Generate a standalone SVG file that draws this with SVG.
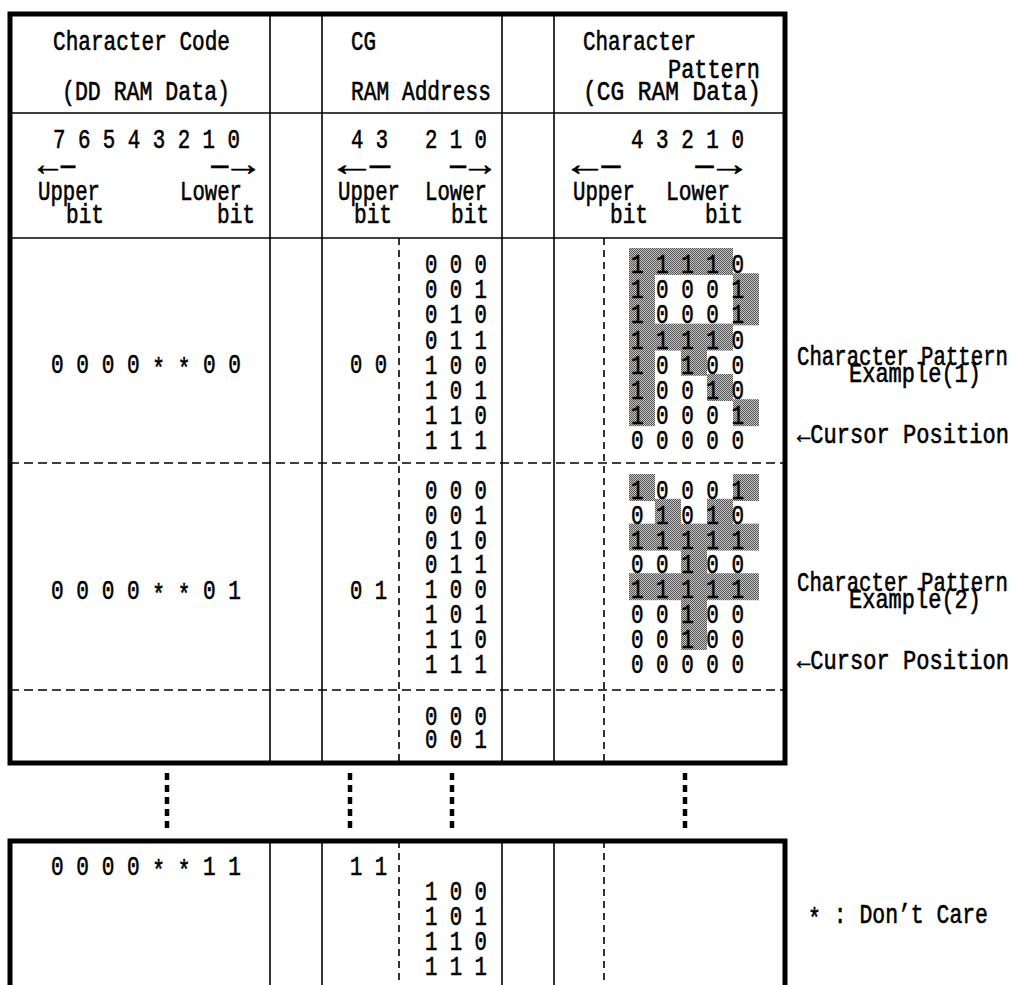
<svg xmlns="http://www.w3.org/2000/svg" width="1019" height="985" viewBox="0 0 1019 985">
<defs>
<pattern id="dither" width="2" height="2" patternUnits="userSpaceOnUse">
<rect width="2" height="2" fill="#c4c4c4"/>
<rect width="1" height="1" fill="#555"/>
<rect x="1" y="1" width="1" height="1" fill="#555"/>
</pattern>
</defs>
<style>
.t{font-family:"Liberation Mono","DejaVu Sans Mono",monospace;font-size:21px;fill:#000;stroke:#000;stroke-width:0.45}
.ar{font-size:25px}
.thick{stroke:#000;stroke-width:5;fill:none}
.thin{stroke:#000;stroke-width:1.6;fill:none}
.hd{stroke:#000;stroke-width:1.6;stroke-dasharray:9 5;fill:none}
.vd{stroke:#000;stroke-width:1.6;stroke-dasharray:7 5;fill:none}
.dot{stroke:#000;stroke-width:4.5;stroke-dasharray:7 5;fill:none}
.sh{fill:url(#dither)}
</style>
<rect width="1019" height="985" fill="#fff"/>

<g id="shading">
<rect class="sh" x="629" y="248" width="26" height="178.2"/>
<rect class="sh" x="655" y="248" width="78" height="27"/>
<rect class="sh" x="733" y="273.2" width="26" height="52.2"/>
<rect class="sh" x="655" y="323.6" width="78" height="27"/>
<rect class="sh" x="681" y="348.8" width="26" height="27"/>
<rect class="sh" x="707" y="374" width="26" height="27"/>
<rect class="sh" x="733" y="399.2" width="26" height="27"/>
<rect class="sh" x="629" y="474" width="26" height="27"/>
<rect class="sh" x="733" y="474" width="26" height="27"/>
<rect class="sh" x="655" y="498.8" width="26" height="27"/>
<rect class="sh" x="707" y="498.8" width="26" height="27"/>
<rect class="sh" x="629" y="523.6" width="130" height="27"/>
<rect class="sh" x="681" y="548.4" width="26" height="27"/>
<rect class="sh" x="629" y="573.2" width="130" height="27"/>
<rect class="sh" x="681" y="598" width="26" height="52"/>
</g>

<g id="grid">
<rect class="thick" x="10" y="14" width="775" height="749"/>
<line class="thin" x1="10" y1="113" x2="785" y2="113"/>
<line class="thin" x1="10" y1="238" x2="785" y2="238"/>
<line class="thin" x1="270" y1="14" x2="270" y2="763"/>
<line class="thin" x1="322" y1="14" x2="322" y2="763"/>
<line class="thin" x1="502" y1="14" x2="502" y2="763"/>
<line class="thin" x1="554" y1="14" x2="554" y2="763"/>
<line class="vd" x1="399" y1="238" x2="399" y2="763"/>
<line class="vd" x1="604" y1="238" x2="604" y2="763"/>
<line class="hd" x1="10" y1="463" x2="785" y2="463"/>
<line class="hd" x1="10" y1="690" x2="785" y2="690"/>
<path class="thick" d="M10 985 V841 H785 V985"/>
<line class="thin" x1="270" y1="841" x2="270" y2="985"/>
<line class="thin" x1="322" y1="841" x2="322" y2="985"/>
<line class="thin" x1="502" y1="841" x2="502" y2="985"/>
<line class="thin" x1="554" y1="841" x2="554" y2="985"/>
<line class="vd" x1="399" y1="841" x2="399" y2="985"/>
<line class="vd" x1="604" y1="841" x2="604" y2="985"/>
</g>

<g id="continuation">
<line class="dot" x1="167" y1="773" x2="167" y2="833"/>
<line class="dot" x1="350" y1="773" x2="350" y2="833"/>
<line class="dot" x1="452" y1="773" x2="452" y2="833"/>
<line class="dot" x1="685" y1="773" x2="685" y2="833"/>
</g>

<g id="texts" transform="scale(1,1.3)">
<g id="header">
<text class="t" x="53" y="38.46" textLength="177" lengthAdjust="spacingAndGlyphs">Character Code</text>
<text class="t" x="62" y="76.92" textLength="168" lengthAdjust="spacingAndGlyphs">(DD RAM Data)</text>
<text class="t" x="351" y="38.46" textLength="25" lengthAdjust="spacingAndGlyphs">CG</text>
<text class="t" x="351" y="76.92" textLength="140" lengthAdjust="spacingAndGlyphs">RAM Address</text>
<text class="t" x="583" y="38.46" textLength="113" lengthAdjust="spacingAndGlyphs">Character</text>
<text class="t" x="668" y="60" textLength="92" lengthAdjust="spacingAndGlyphs">Pattern</text>
<text class="t" x="583" y="76.92" textLength="178" lengthAdjust="spacingAndGlyphs">(CG RAM Data)</text>
</g>

<g id="bits">
<text class="t" x="53" y="113.85" textLength="187" lengthAdjust="spacingAndGlyphs">7 6 5 4 3 2 1 0</text>
<text class="t ar" x="38" y="134.6" textLength="40" lengthAdjust="spacingAndGlyphs">←–</text>
<text class="t ar" x="208" y="134.6" textLength="47" lengthAdjust="spacingAndGlyphs">–→</text>
<text class="t" x="38" y="153.85" textLength="62" lengthAdjust="spacingAndGlyphs">Upper</text>
<text class="t" x="66" y="171.54" textLength="38" lengthAdjust="spacingAndGlyphs">bit</text>
<text class="t" x="180" y="153.85" textLength="62" lengthAdjust="spacingAndGlyphs">Lower</text>
<text class="t" x="217" y="171.54" textLength="38" lengthAdjust="spacingAndGlyphs">bit</text>

<text class="t" x="351" y="113.85" textLength="37" lengthAdjust="spacingAndGlyphs">4 3</text>
<text class="t" x="425" y="113.85" textLength="62" lengthAdjust="spacingAndGlyphs">2 1 0</text>
<text class="t ar" x="338" y="134.6" textLength="56" lengthAdjust="spacingAndGlyphs">←–</text>
<text class="t ar" x="447" y="134.6" textLength="44" lengthAdjust="spacingAndGlyphs">–→</text>
<text class="t" x="338" y="153.85" textLength="62" lengthAdjust="spacingAndGlyphs">Upper</text>
<text class="t" x="354" y="171.54" textLength="38" lengthAdjust="spacingAndGlyphs">bit</text>
<text class="t" x="425" y="153.85" textLength="62" lengthAdjust="spacingAndGlyphs">Lower</text>
<text class="t" x="451" y="171.54" textLength="38" lengthAdjust="spacingAndGlyphs">bit</text>

<text class="t" x="631" y="113.85" textLength="113" lengthAdjust="spacingAndGlyphs">4 3 2 1 0</text>
<text class="t ar" x="572" y="134.6" textLength="52" lengthAdjust="spacingAndGlyphs">←–</text>
<text class="t ar" x="692" y="134.6" textLength="50" lengthAdjust="spacingAndGlyphs">–→</text>
<text class="t" x="573" y="153.85" textLength="62" lengthAdjust="spacingAndGlyphs">Upper</text>
<text class="t" x="610" y="171.54" textLength="38" lengthAdjust="spacingAndGlyphs">bit</text>
<text class="t" x="666" y="153.85" textLength="64" lengthAdjust="spacingAndGlyphs">Lower</text>
<text class="t" x="705" y="171.54" textLength="38" lengthAdjust="spacingAndGlyphs">bit</text>
</g>

<g id="block1">
<text class="t" x="51" y="286.92" textLength="190" lengthAdjust="spacingAndGlyphs">0 0 0 0 <tspan dy="3">* *</tspan><tspan dy="-3"> 0 0</tspan></text>
<text class="t" x="350" y="286.92" textLength="37" lengthAdjust="spacingAndGlyphs">0 0</text>
<text class="t" x="425" y="210" textLength="62" lengthAdjust="spacingAndGlyphs">0 0 0</text>
<text class="t" x="425" y="229.38" textLength="62" lengthAdjust="spacingAndGlyphs">0 0 1</text>
<text class="t" x="425" y="248.77" textLength="62" lengthAdjust="spacingAndGlyphs">0 1 0</text>
<text class="t" x="425" y="268.15" textLength="62" lengthAdjust="spacingAndGlyphs">0 1 1</text>
<text class="t" x="425" y="287.54" textLength="62" lengthAdjust="spacingAndGlyphs">1 0 0</text>
<text class="t" x="425" y="306.92" textLength="62" lengthAdjust="spacingAndGlyphs">1 0 1</text>
<text class="t" x="425" y="326.31" textLength="62" lengthAdjust="spacingAndGlyphs">1 1 0</text>
<text class="t" x="425" y="345.69" textLength="62" lengthAdjust="spacingAndGlyphs">1 1 1</text>
<text class="t" x="631" y="210" textLength="113" lengthAdjust="spacingAndGlyphs">1 1 1 1 0</text>
<text class="t" x="631" y="229.38" textLength="113" lengthAdjust="spacingAndGlyphs">1 0 0 0 1</text>
<text class="t" x="631" y="248.77" textLength="113" lengthAdjust="spacingAndGlyphs">1 0 0 0 1</text>
<text class="t" x="631" y="268.15" textLength="113" lengthAdjust="spacingAndGlyphs">1 1 1 1 0</text>
<text class="t" x="631" y="287.54" textLength="113" lengthAdjust="spacingAndGlyphs">1 0 1 0 0</text>
<text class="t" x="631" y="306.92" textLength="113" lengthAdjust="spacingAndGlyphs">1 0 0 1 0</text>
<text class="t" x="631" y="326.31" textLength="113" lengthAdjust="spacingAndGlyphs">1 0 0 0 1</text>
<text class="t" x="631" y="345.69" textLength="113" lengthAdjust="spacingAndGlyphs">0 0 0 0 0</text>
<text class="t" x="797" y="280.77" textLength="211" lengthAdjust="spacingAndGlyphs">Character Pattern</text>
<text class="t" x="849" y="293.85" textLength="132" lengthAdjust="spacingAndGlyphs">Example(1)</text>
<text class="t" x="797" y="340.77" textLength="212" lengthAdjust="spacingAndGlyphs">←Cursor Position</text>
</g>

<g id="block2">
<text class="t" x="51" y="460.77" textLength="190" lengthAdjust="spacingAndGlyphs">0 0 0 0 <tspan dy="3">* *</tspan><tspan dy="-3"> 0 1</tspan></text>
<text class="t" x="350" y="460.77" textLength="37" lengthAdjust="spacingAndGlyphs">0 1</text>
<text class="t" x="425" y="383.85" textLength="62" lengthAdjust="spacingAndGlyphs">0 0 0</text>
<text class="t" x="425" y="402.92" textLength="62" lengthAdjust="spacingAndGlyphs">0 0 1</text>
<text class="t" x="425" y="422" textLength="62" lengthAdjust="spacingAndGlyphs">0 1 0</text>
<text class="t" x="425" y="441.08" textLength="62" lengthAdjust="spacingAndGlyphs">0 1 1</text>
<text class="t" x="425" y="460.15" textLength="62" lengthAdjust="spacingAndGlyphs">1 0 0</text>
<text class="t" x="425" y="479.23" textLength="62" lengthAdjust="spacingAndGlyphs">1 0 1</text>
<text class="t" x="425" y="498.31" textLength="62" lengthAdjust="spacingAndGlyphs">1 1 0</text>
<text class="t" x="425" y="517.38" textLength="62" lengthAdjust="spacingAndGlyphs">1 1 1</text>
<text class="t" x="631" y="383.85" textLength="113" lengthAdjust="spacingAndGlyphs">1 0 0 0 1</text>
<text class="t" x="631" y="402.92" textLength="113" lengthAdjust="spacingAndGlyphs">0 1 0 1 0</text>
<text class="t" x="631" y="422" textLength="113" lengthAdjust="spacingAndGlyphs">1 1 1 1 1</text>
<text class="t" x="631" y="441.08" textLength="113" lengthAdjust="spacingAndGlyphs">0 0 1 0 0</text>
<text class="t" x="631" y="460.15" textLength="113" lengthAdjust="spacingAndGlyphs">1 1 1 1 1</text>
<text class="t" x="631" y="479.23" textLength="113" lengthAdjust="spacingAndGlyphs">0 0 1 0 0</text>
<text class="t" x="631" y="498.31" textLength="113" lengthAdjust="spacingAndGlyphs">0 0 1 0 0</text>
<text class="t" x="631" y="517.38" textLength="113" lengthAdjust="spacingAndGlyphs">0 0 0 0 0</text>
<text class="t" x="797" y="454.62" textLength="211" lengthAdjust="spacingAndGlyphs">Character Pattern</text>
<text class="t" x="849" y="467.69" textLength="132" lengthAdjust="spacingAndGlyphs">Example(2)</text>
<text class="t" x="797" y="514.62" textLength="212" lengthAdjust="spacingAndGlyphs">←Cursor Position</text>
</g>

<g id="block3">
<text class="t" x="425" y="557.69" textLength="62" lengthAdjust="spacingAndGlyphs">0 0 0</text>
<text class="t" x="425" y="575.38" textLength="62" lengthAdjust="spacingAndGlyphs">0 0 1</text>
</g>

<g id="block-last">
<text class="t" x="51" y="673.08" textLength="190" lengthAdjust="spacingAndGlyphs">0 0 0 0 <tspan dy="3">* *</tspan><tspan dy="-3"> 1 1</tspan></text>
<text class="t" x="350" y="673.08" textLength="37" lengthAdjust="spacingAndGlyphs">1 1</text>
<text class="t" x="425" y="692.31" textLength="62" lengthAdjust="spacingAndGlyphs">1 0 0</text>
<text class="t" x="425" y="711.54" textLength="62" lengthAdjust="spacingAndGlyphs">1 0 1</text>
<text class="t" x="425" y="730.77" textLength="62" lengthAdjust="spacingAndGlyphs">1 1 0</text>
<text class="t" x="425" y="750" textLength="62" lengthAdjust="spacingAndGlyphs">1 1 1</text>
<text class="t" x="808" y="710" textLength="180" lengthAdjust="spacingAndGlyphs"><tspan dy="3">*</tspan><tspan dy="-3"> : Don’t Care</tspan></text>
</g>
</g>
</svg>
